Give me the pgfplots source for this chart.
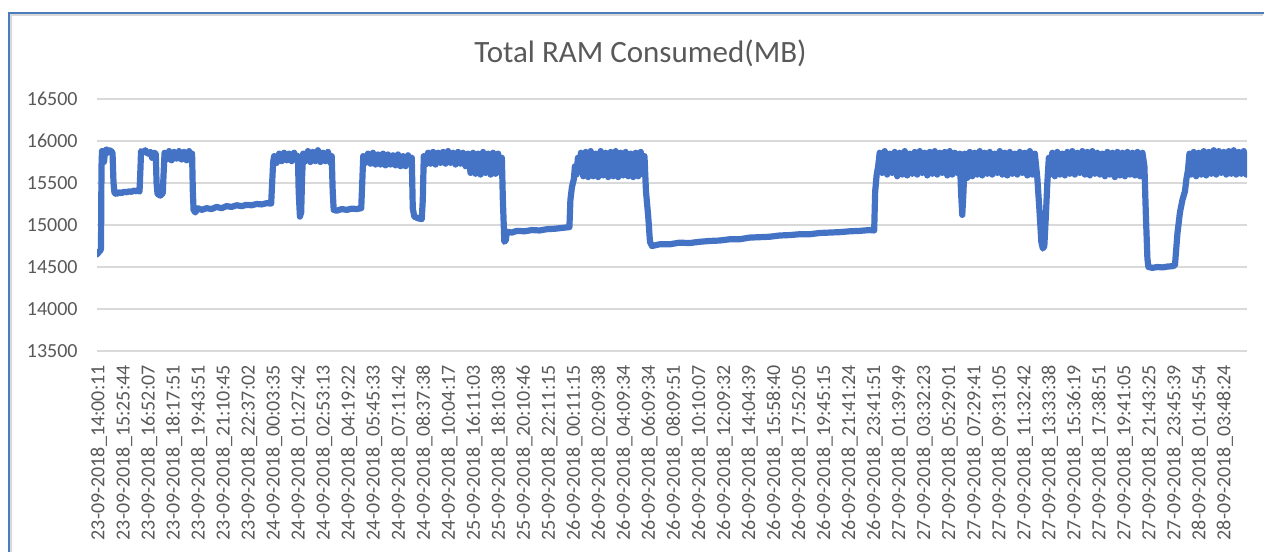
\documentclass[border=0pt]{standalone}
\usepackage{fontspec}
\setmainfont{Carlito}
\usepackage{pgfplots}
\pgfplotsset{compat=1.18}
\definecolor{serblue}{RGB}{68,114,196}
\definecolor{frameblue}{RGB}{74,126,187}
\definecolor{txtgray}{RGB}{89,89,89}
\definecolor{gridgray}{RGB}{217,217,217}

\begin{document}
\begin{tikzpicture}
% 1 px of the reference = 0.5pt; axis box lower-left at px (97,351)
\useasboundingbox (-48.5pt,-100.5pt) rectangle (583.5pt,175.5pt);
\fill[white] (-48.5pt,-100.5pt) rectangle (583.5pt,175.5pt);
\draw[gridgray, line width=1pt] (-43pt,-100.5pt) -- (-43pt,168pt) -- (583pt,168pt);
\draw[frameblue, line width=1.1pt] (-44pt,-100.5pt) -- (-44pt,169pt) -- (583.5pt,169pt);

\begin{axis}[
  scale only axis,
  width=575pt, height=126pt,
  xmin=-0.08, xmax=45.88,
  ymin=13500, ymax=16500,
  ytick={13500,14000,...,16500},
  xtick={0,...,45},
  xticklabels={
    23-09-2018\_14:00:11, 23-09-2018\_15:25:44, 23-09-2018\_16:52:07, 23-09-2018\_18:17:51,
    23-09-2018\_19:43:51, 23-09-2018\_21:10:45, 23-09-2018\_22:37:02, 24-09-2018\_00:03:35,
    24-09-2018\_01:27:42, 24-09-2018\_02:53:13, 24-09-2018\_04:19:22, 24-09-2018\_05:45:33,
    24-09-2018\_07:11:42, 24-09-2018\_08:37:38, 24-09-2018\_10:04:17, 25-09-2018\_16:11:03,
    25-09-2018\_18:10:38, 25-09-2018\_20:10:46, 25-09-2018\_22:11:15, 26-09-2018\_00:11:15,
    26-09-2018\_02:09:38, 26-09-2018\_04:09:34, 26-09-2018\_06:09:34, 26-09-2018\_08:09:51,
    26-09-2018\_10:10:07, 26-09-2018\_12:09:32, 26-09-2018\_14:04:39, 26-09-2018\_15:58:40,
    26-09-2018\_17:52:05, 26-09-2018\_19:45:15, 26-09-2018\_21:41:24, 26-09-2018\_23:41:51,
    27-09-2018\_01:39:49, 27-09-2018\_03:32:23, 27-09-2018\_05:29:01, 27-09-2018\_07:29:41,
    27-09-2018\_09:31:05, 27-09-2018\_11:32:42, 27-09-2018\_13:33:38, 27-09-2018\_15:36:19,
    27-09-2018\_17:38:51, 27-09-2018\_19:41:05, 27-09-2018\_21:43:25, 27-09-2018\_23:45:39,
    28-09-2018\_01:45:54, 28-09-2018\_03:48:24},
  axis line style={draw=none},
  major tick length=0pt,
  ymajorgrids,
  grid style={gridgray, line width=0.9pt},
  tick label style={font=\fontsize{10}{12}\selectfont, text=txtgray, inner sep=0pt},
  xticklabel style={rotate=90, anchor=east},
  yticklabel style={anchor=east},
  xticklabel shift=7pt,
  yticklabel shift=9.5pt,
  scaled y ticks=false,
  /pgf/number format/.cd, set thousands separator={}, assume math mode=true,
]
\addplot[serblue, line width=3.1pt, line join=round, line cap=round, mark=none] coordinates {
(-0.08,14650) (0.0,14680) (0.06,14700) (0.08,14720) (0.10,15700) (0.12,15880) (0.16,15860)
(0.20,15750) (0.24,15880) (0.30,15900) (0.36,15860) (0.42,15890) (0.48,15880) (0.54,15860)
(0.58,15500) (0.62,15380) (0.70,15370) (0.80,15390) (0.90,15380) (1.00,15395) (1.10,15390)
(1.20,15400) (1.30,15395) (1.40,15410) (1.50,15400) (1.58,15420) (1.62,15400) (1.66,15700)
(1.68,15880) (1.75,15860) (1.85,15890) (1.95,15850) (2.05,15870) (2.12,15800) (2.20,15860)
(2.27,15850) (2.30,15500) (2.34,15370) (2.45,15350) (2.55,15380) (2.58,15600) (2.62,15860)
(2.70,15780) (2.80,15880) (2.90,15770) (3.00,15870) (3.10,15790) (3.20,15880) (3.30,15780)
(3.40,15870) (3.50,15770) (3.60,15880) (3.68,15790) (3.72,15850) (3.75,15400) (3.78,15180)
(3.85,15150) (3.95,15200) (4.10,15180) (4.30,15200) (4.50,15190) (4.70,15215) (4.90,15200)
(5.10,15225) (5.30,15215) (5.50,15235) (5.70,15225) (5.90,15240) (6.10,15235) (6.30,15250)
(6.50,15245) (6.70,15260) (6.88,15255) (6.92,15500) (6.96,15750) (7.00,15820) (7.10,15740)
(7.20,15850) (7.30,15760) (7.40,15860) (7.50,15770) (7.60,15850) (7.70,15760) (7.80,15860)
(7.90,15780) (7.95,15820) (7.98,15400) (8.03,15100) (8.08,15150) (8.12,15600) (8.16,15850)
(8.25,15760) (8.35,15880) (8.45,15750) (8.55,15870) (8.65,15760) (8.75,15890) (8.85,15750)
(8.95,15860) (9.05,15760) (9.15,15870) (9.25,15740) (9.30,15820) (9.34,15400) (9.38,15180)
(9.50,15170) (9.70,15190) (9.90,15180) (10.10,15195) (10.30,15190) (10.48,15200) (10.52,15500)
(10.56,15820) (10.65,15740) (10.75,15850) (10.85,15730) (10.95,15860) (11.05,15720) (11.15,15840)
(11.25,15720) (11.35,15850) (11.45,15710) (11.55,15840) (11.65,15720) (11.75,15830) (11.85,15710)
(11.95,15840) (12.05,15700) (12.15,15820) (12.25,15700) (12.35,15830) (12.45,15720) (12.50,15800)
(12.54,15200) (12.60,15100) (12.75,15080) (12.90,15070) (12.94,15300) (12.98,15820) (13.05,15720)
(13.15,15860) (13.25,15730) (13.35,15870) (13.45,15720) (13.55,15860) (13.65,15740) (13.75,15870)
(13.85,15730) (13.95,15880) (14.05,15740) (14.15,15860) (14.25,15720) (14.35,15870) (14.45,15730)
(14.55,15860) (14.65,15700) (14.75,15850) (14.85,15620) (14.95,15860) (15.05,15610) (15.15,15850)
(15.25,15600) (15.35,15870) (15.45,15620) (15.55,15850) (15.65,15600) (15.75,15860) (15.85,15610)
(15.95,15850) (16.05,15620) (16.10,15800) (16.14,15300) (16.20,14800) (16.26,14820) (16.30,14920)
(16.50,14910) (16.70,14930) (17.00,14925) (17.30,14940) (17.60,14935) (17.90,14950) (18.20,14955)
(18.50,14965) (18.80,14975) (18.84,15300) (18.90,15450) (18.98,15550) (19.02,15700) (19.08,15600)
(19.14,15800) (19.20,15640) (19.26,15860) (19.35,15580) (19.45,15870) (19.55,15570) (19.65,15880)
(19.75,15580) (19.85,15850) (19.95,15570) (20.05,15880) (20.15,15590) (20.25,15860) (20.35,15570)
(20.45,15870) (20.55,15580) (20.65,15880) (20.75,15570) (20.85,15860) (20.95,15590) (21.05,15870)
(21.15,15580) (21.25,15850) (21.35,15570) (21.45,15860) (21.55,15580) (21.65,15870) (21.75,15600)
(21.80,15820) (21.86,15400) (21.95,15100) (22.02,14800) (22.10,14750) (22.40,14770) (22.80,14770)
(23.20,14790) (23.60,14785) (24.00,14800) (24.40,14810) (24.80,14815) (25.20,14830) (25.60,14830)
(26.00,14850) (26.40,14855) (26.80,14860) (27.20,14875) (27.60,14880) (28.00,14890) (28.40,14890)
(28.80,14905) (29.20,14910) (29.60,14915) (30.00,14925) (30.40,14930) (30.80,14940) (30.98,14935)
(31.02,15400) (31.08,15600) (31.14,15700) (31.20,15860) (31.30,15620) (31.40,15880) (31.50,15600)
(31.60,15850) (31.70,15620) (31.80,15870) (31.90,15580) (32.00,15860) (32.10,15600) (32.20,15880)
(32.30,15590) (32.40,15850) (32.50,15610) (32.60,15870) (32.70,15600) (32.80,15880) (32.90,15620)
(33.00,15860) (33.10,15590) (33.20,15870) (33.30,15610) (33.40,15880) (33.50,15600) (33.60,15860)
(33.70,15620) (33.80,15870) (33.90,15590) (34.00,15880) (34.10,15600) (34.20,15860) (34.30,15620)
(34.40,15850) (34.45,15400) (34.50,15120) (34.55,15400) (34.60,15850) (34.70,15560) (34.80,15870)
(34.90,15580) (35.00,15860) (35.10,15600) (35.20,15880) (35.30,15590) (35.40,15860) (35.50,15610)
(35.60,15870) (35.70,15600) (35.80,15850) (35.90,15620) (36.00,15880) (36.10,15600) (36.20,15860)
(36.30,15590) (36.40,15870) (36.50,15610) (36.60,15850) (36.70,15600) (36.80,15870) (36.90,15620)
(37.00,15860) (37.10,15590) (37.20,15880) (37.30,15600) (37.40,15850) (37.50,15560) (37.58,15200)
(37.66,14800) (37.72,14720) (37.78,14750) (37.84,15100) (37.90,15500) (37.96,15800) (38.00,15600)
(38.10,15860) (38.20,15580) (38.30,15870) (38.40,15600) (38.50,15850) (38.60,15590) (38.70,15870)
(38.80,15610) (38.90,15880) (39.00,15600) (39.10,15860) (39.20,15620) (39.30,15880) (39.40,15600)
(39.50,15870) (39.60,15590) (39.70,15880) (39.80,15610) (39.90,15860) (40.00,15600) (40.10,15850)
(40.20,15580) (40.30,15870) (40.40,15600) (40.50,15860) (40.60,15570) (40.70,15870) (40.80,15590)
(40.90,15860) (41.00,15580) (41.10,15870) (41.20,15600) (41.30,15860) (41.40,15590) (41.50,15870)
(41.60,15580) (41.70,15860) (41.78,15700) (41.84,15100) (41.90,14600) (41.94,14500) (42.10,14490)
(42.30,14500) (42.50,14495) (42.70,14505) (42.90,14510) (43.00,14520) (43.10,14900) (43.20,15150)
(43.30,15300) (43.40,15400) (43.46,15550) (43.52,15650) (43.58,15850) (43.65,15600) (43.75,15870)
(43.85,15580) (43.95,15860) (44.05,15600) (44.15,15880) (44.25,15590) (44.35,15870) (44.45,15610)
(44.55,15890) (44.65,15600) (44.75,15880) (44.85,15620) (44.95,15870) (45.05,15600) (45.15,15880)
(45.25,15610) (45.35,15890) (45.45,15600) (45.55,15870) (45.65,15610) (45.75,15880) (45.85,15600)
(45.88,15650)
};
\end{axis}

\node[anchor=base, text=txtgray, font=\fontsize{15.5}{18}\selectfont] at (271.75pt,144pt) {Total RAM Consumed(MB)};
\end{tikzpicture}
\end{document}
